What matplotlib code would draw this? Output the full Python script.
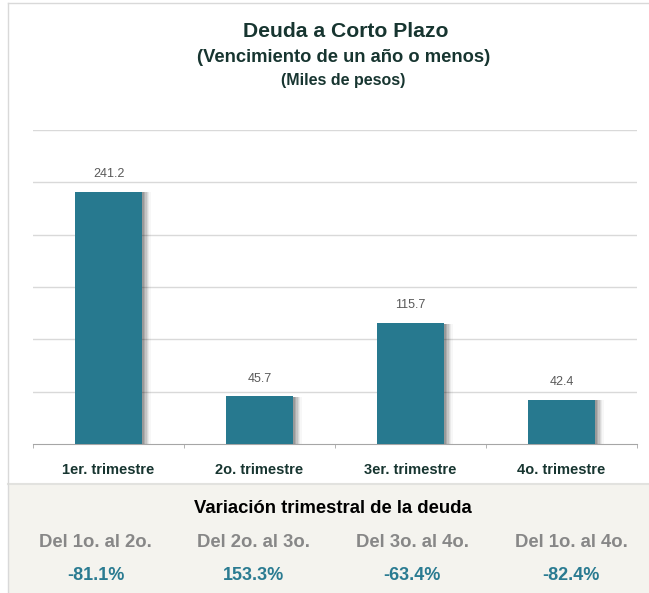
import numpy as np
import matplotlib
matplotlib.use('Agg')
from matplotlib import pyplot as plt
import matplotlib.patheffects as pe
from matplotlib.patches import Rectangle
from matplotlib.lines import Line2D

# chart data
trimestres = ['1er. trimestre', '2o. trimestre', '3er. trimestre', '4o. trimestre']
deuda = [241.2, 45.7, 115.7, 42.4]
variacion_labels = ['Del 1o. al 2o.', 'Del 2o. al 3o.', 'Del 3o. al 4o.', 'Del 1o. al 4o.']
variacion_values = [-81.1, 153.3, -63.4, -82.4]

plt.rcParams['font.family'] = ['Liberation Sans', 'DejaVu Sans']

W, H = 649, 593

def fx(px):
    return px / W

def fy(py):
    return 1 - py / H

bar_color = '#27798f'
title_color = '#173530'
grid_color = '#d9d9d9'

fig = plt.figure(figsize=(W / 100, H / 100), dpi=100)

# beige panel for the variation table
fig.patches.append(Rectangle((fx(8), 0), 1 - fx(8), fy(484), transform=fig.transFigure,
                             facecolor='#f4f3ee', edgecolor='none', zorder=0))
fig.lines.append(Line2D([fx(8), 1], [fy(483.5), fy(483.5)], transform=fig.transFigure,
                        color='#e2e2df', lw=1.5))
# outer frame (left and top)
fig.lines.append(Line2D([fx(7.5), fx(7.5)], [0, fy(3)], transform=fig.transFigure,
                        color=grid_color, lw=1))
fig.lines.append(Line2D([fx(7.5), 1], [fy(3), fy(3)], transform=fig.transFigure,
                        color=grid_color, lw=1))

# titles
fig.text(fx(346), fy(37), 'Deuda a Corto Plazo', ha='center', va='baseline',
         fontsize=15.2, fontweight='bold', color=title_color)
fig.text(fx(344), fy(62.5), '(Vencimiento de un año o menos)', ha='center', va='baseline',
         fontsize=13.2, fontweight='bold', color=title_color)
fig.text(fx(343), fy(84.5), '(Miles de pesos)', ha='center', va='baseline',
         fontsize=11.5, fontweight='bold', color=title_color)

# bar chart
ax = fig.add_axes([fx(33), fy(444), fx(637) - fx(33), fy(130) - fy(444)])
x = np.arange(len(trimestres))
shadow = [pe.SimplePatchShadow(offset=(o, -0.5), shadow_rgbFace='black', alpha=a)
          for o, a in [(6.5, 0.03), (5.5, 0.05), (4.5, 0.07), (3.5, 0.09), (2.5, 0.11), (1.5, 0.12)]]
bars = ax.bar(x, deuda, width=0.44, color=bar_color, zorder=3,
              path_effects=shadow + [pe.Normal()])

for xi, v in zip(x, deuda):
    ax.annotate(f'{v:.1f}', (xi, v), xytext=(0, 10.5), textcoords='offset points',
                ha='center', va='baseline', fontsize=9, color='#595959')

ax.set_xlim(-0.5, len(trimestres) - 0.5)
ax.set_ylim(0, 300)
ax.set_yticks(np.arange(50, 301, 50))
ax.yaxis.grid(True, color=grid_color, lw=1)
ax.set_axisbelow(True)
ax.tick_params(axis='y', left=False, labelleft=False)
for s in ['top', 'right', 'left']:
    ax.spines[s].set_visible(False)
ax.spines['bottom'].set_color('#a6a6a6')
ax.set_xticks(x)
ax.set_xticklabels(trimestres, fontsize=10.5, fontweight='bold', color=title_color)
ax.tick_params(axis='x', which='major', length=0, pad=13.5)
ax.set_xticks(np.arange(-0.5, len(trimestres)), minor=True)
ax.tick_params(axis='x', which='minor', length=3, color='#a6a6a6', direction='out')
ax.patch.set_visible(False)

# variation table
fig.text(fx(333), fy(513), 'Variación trimestral de la deuda', ha='center', va='baseline',
         fontsize=13.3, fontweight='bold', color='black')
col_x = [95.5, 253.5, 412, 571]
for cx, lab, val in zip(col_x, variacion_labels, variacion_values):
    fig.text(fx(cx), fy(547), lab, ha='center', va='baseline',
             fontsize=13.3, fontweight='bold', color='#878787')
    fig.text(fx(cx), fy(579.5), f'{val:.1f}%', ha='center', va='baseline',
             fontsize=13, fontweight='bold', color='#2a7b91')

fig.savefig('out.png', dpi=100)
